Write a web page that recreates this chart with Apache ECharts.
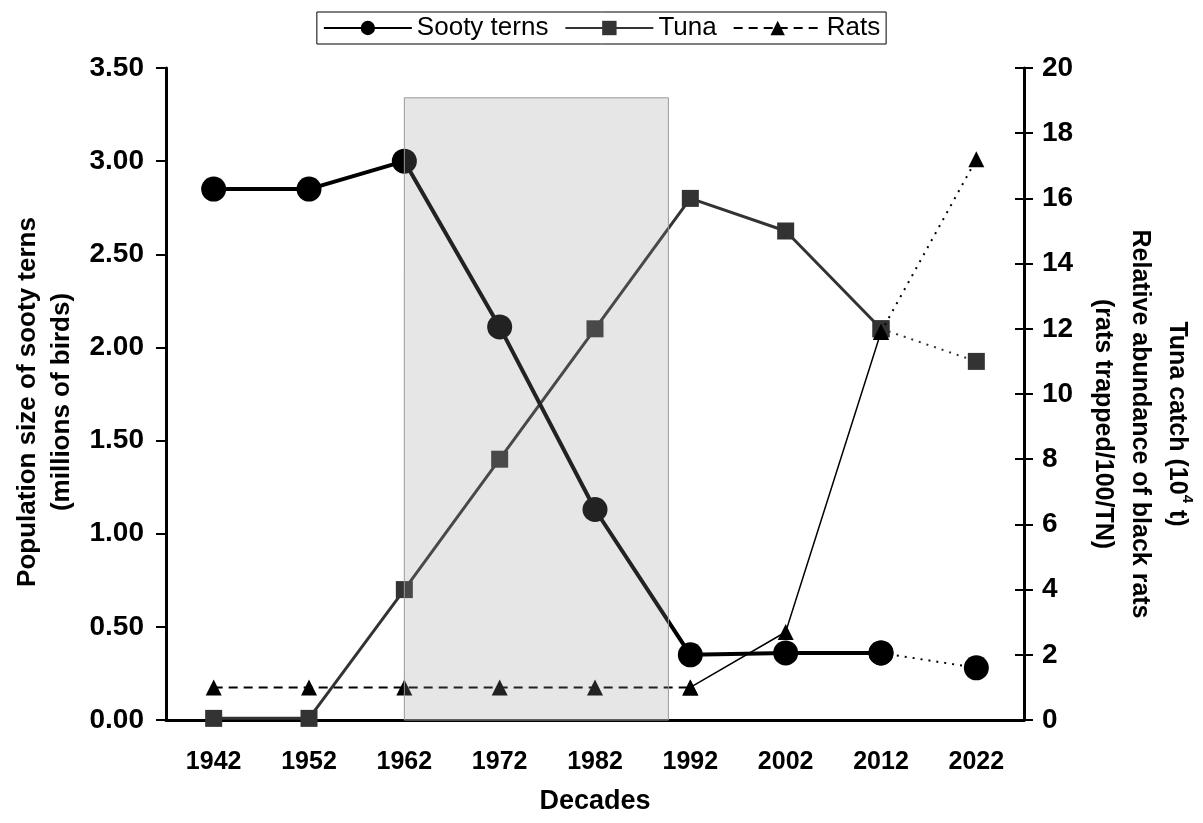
<!DOCTYPE html>
<html>
<head>
<meta charset="utf-8">
<script src="https://cdn.jsdelivr.net/npm/echarts@6/dist/echarts.min.js"></script>
<style>
html,body{margin:0;padding:0;background:#fff;}
#chart{width:1203px;height:823px;}
</style>
</head>
<body>
<div id="chart"></div>
<script>
const decades = ['1942','1952','1962','1972','1982','1992','2002','2012','2022'];
const sootyTerns = [2.85, 2.85, 3.00, 2.11, 1.13, 0.35, 0.36, 0.36, 0.28];
const tunaCatch = [0.05, 0.05, 4, 8, 12, 16, 15, 12, 11];
const ratAbundance = [1, 1, 1, 1, 1, 1, 2.7, 11.9, 17.2];
const leftTicks = {min: 0, max: 3.5, interval: 0.5};
const rightTicks = {min: 0, max: 20, interval: 2};
const shadeYears = [1962, 1989.7];
const shadeTop = 3.34;
const yearRange = [1937, 2027];

function seg(arr, from, to) {
  return arr.map((v, i) => (i >= from && i <= to) ? v : '-');
}

const FONT = '"Liberation Sans", Arial, sans-serif';
const chart = echarts.init(document.getElementById('chart'), null, {renderer: 'canvas'});

const option = {
  animation: false,
  backgroundColor: '#fff',
  textStyle: {fontFamily: FONT},
  legend: {
    data: ['Sooty terns', 'Tuna', 'Rats'],
    top: 12,
    left: 'center',
    borderColor: '#000',
    borderWidth: 1,
    padding: [3, 6, 3, 6],
    itemGap: 16,
    itemWidth: 88,
    itemHeight: 18,
    textStyle: {fontFamily: FONT, fontSize: 26, color: '#000'}
  },
  grid: {left: 166, right: 179, top: 68, bottom: 103, containLabel: false, outerBoundsMode: 'none'},
  xAxis: [{
    type: 'category',
    data: decades,
    boundaryGap: true,
    name: 'Decades',
    nameLocation: 'middle',
    nameGap: 68,
    nameTextStyle: {fontFamily: FONT, fontSize: 27, fontWeight: 'bold', color: '#000'},
    axisLine: {lineStyle: {color: '#000', width: 3}},
    axisTick: {show: false},
    axisLabel: {fontFamily: FONT, fontSize: 25, fontWeight: 'bold', color: '#000', margin: 30},
    splitLine: {show: false}
  }, {
    type: 'value',
    min: yearRange[0],
    max: yearRange[1],
    show: false
  }],
  yAxis: [{
    type: 'value',
    position: 'left',
    min: leftTicks.min, max: leftTicks.max, interval: leftTicks.interval,
    name: 'Population size of sooty terns\n(millions of birds)',
    nameLocation: 'middle',
    nameRotate: 90,
    nameGap: 86,
    nameTextStyle: {fontFamily: FONT, fontSize: 26, fontWeight: 'bold', color: '#000', lineHeight: 34,
      padding: [0, 16, 0, 0]},
    axisLine: {show: true, lineStyle: {color: '#000', width: 3}},
    axisTick: {show: true, length: 10, lineStyle: {color: '#000', width: 2}},
    axisLabel: {fontFamily: FONT, fontSize: 28, fontWeight: 'bold', color: '#000', margin: 22,
      formatter: v => v.toFixed(2)},
    splitLine: {show: false}
  }, {
    type: 'value',
    position: 'right',
    min: rightTicks.min, max: rightTicks.max, interval: rightTicks.interval,
    name: 'Tuna catch (10{sup|4} t)\nRelative abundance of black rats\n(rats trapped/100/TN)',
    nameLocation: 'middle',
    nameRotate: -90,
    nameGap: 57,
    nameTextStyle: {fontFamily: FONT, fontSize: 25, fontWeight: 'bold', color: '#000', lineHeight: 37,
      padding: [0, 0, 0, 60],
      rich: {sup: {fontFamily: FONT, fontSize: 15, fontWeight: 'bold', color: '#000', verticalAlign: 'top', lineHeight: 37}}},
    axisLine: {show: true, lineStyle: {color: '#000', width: 3}},
    axisTick: {show: true, length: 9, lineStyle: {color: '#000', width: 2}},
    axisLabel: {fontFamily: FONT, fontSize: 28, fontWeight: 'bold', color: '#000', margin: 18},
    splitLine: {show: false}
  }, {
    type: 'value',
    position: 'right',
    min: rightTicks.min, max: rightTicks.max, interval: rightTicks.interval,
    axisLine: {show: false},
    axisTick: {show: true, inside: true, length: 9, lineStyle: {color: '#000', width: 2}},
    axisLabel: {show: false},
    splitLine: {show: false}
  }],
  series: [
    {
      name: 'Sooty terns', type: 'line', yAxisIndex: 0, z: 5,
      data: seg(sootyTerns, 0, 7),
      symbol: 'circle', symbolSize: 25,
      itemStyle: {color: '#000'},
      lineStyle: {color: '#000', width: 4}
    },
    {
      name: 'Sooty terns end', type: 'line', yAxisIndex: 0, z: 5,
      data: seg(sootyTerns, 7, 8),
      symbol: 'circle', symbolSize: 25,
      itemStyle: {color: '#000'},
      lineStyle: {color: '#000', width: 2, type: [2, 6]}
    },
    {
      name: 'Tuna', type: 'line', yAxisIndex: 1, z: 3,
      data: seg(tunaCatch, 0, 7),
      symbol: 'rect', symbolSize: 17,
      itemStyle: {color: '#333'},
      lineStyle: {color: '#333', width: 3}
    },
    {
      name: 'Tuna end', type: 'line', yAxisIndex: 1, z: 3,
      data: seg(tunaCatch, 7, 8),
      symbol: 'rect', symbolSize: 17,
      itemStyle: {color: '#333'},
      lineStyle: {color: '#333', width: 2, type: [2, 6]}
    },
    {
      name: 'Rats', type: 'line', yAxisIndex: 1, z: 4,
      data: seg(ratAbundance, 0, 5),
      symbol: 'triangle', symbolSize: 16,
      itemStyle: {color: '#000'},
      lineStyle: {color: '#000', width: 2, type: [9, 6]}
    },
    {
      name: 'Rats mid', type: 'line', yAxisIndex: 1, z: 4,
      data: seg(ratAbundance, 5, 7),
      symbol: 'triangle', symbolSize: 16,
      itemStyle: {color: '#000'},
      lineStyle: {color: '#000', width: 1.5}
    },
    {
      name: 'Rats end', type: 'line', yAxisIndex: 1, z: 4,
      data: seg(ratAbundance, 7, 8),
      symbol: 'triangle', symbolSize: 16,
      itemStyle: {color: '#000'},
      lineStyle: {color: '#000', width: 2, type: [2, 6]}
    },
    {
      name: 'shade', type: 'custom', xAxisIndex: 1, yAxisIndex: 0, z: 10, silent: true,
      data: [[shadeYears[0], shadeYears[1], shadeTop]],
      renderItem: function (params, api) {
        const p0 = api.coord([api.value(0), api.value(2)]);
        const p1 = api.coord([api.value(1), 0]);
        return {
          type: 'rect',
          shape: {x: p0[0], y: p0[1], width: p1[0] - p0[0], height: p1[1] - p0[1]},
          style: {fill: 'rgba(147,147,147,0.23)', stroke: '#9a9a9a', lineWidth: 1}
        };
      }
    }
  ]
};
chart.setOption(option);
</script>
</body>
</html>
